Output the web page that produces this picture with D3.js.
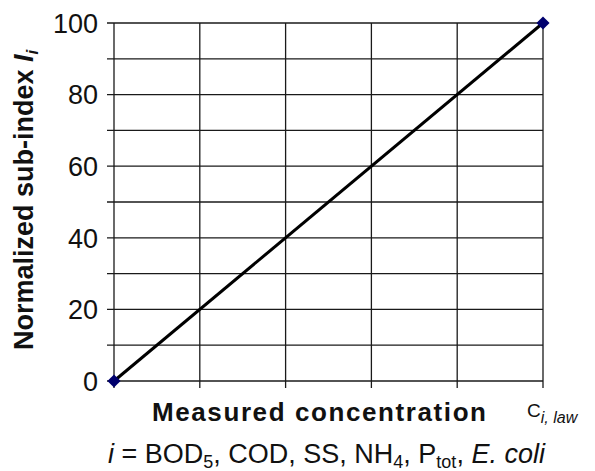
<!DOCTYPE html>
<html><head><meta charset="utf-8">
<script src="https://cdn.jsdelivr.net/npm/d3@7"></script>
<style>html,body{margin:0;padding:0;background:#fff;}svg{display:block;}</style>
</head><body>
<script>
const concentration = [0, 1];          // fraction of C_i,law
const subIndex = [0, 100];             // normalized sub-index I_i
const yTickLabels = [0, 20, 40, 60, 80, 100];
const yGridValues = [0, 10, 20, 30, 40, 50, 60, 70, 80, 90, 100];
const xGridValues = [0, 0.2, 0.4, 0.6, 0.8, 1.0];

const W = 595, H = 471;
const L = 114, R = 543, T = 23, B = 381;
const svg = d3.select("body").append("svg").attr("width", W).attr("height", H);
const x = d3.scaleLinear().domain([0, 1]).range([L, R]);
const y = d3.scaleLinear().domain([0, 100]).range([B, T]);
const font = "'Liberation Sans', Arial, Helvetica, sans-serif";
const gridColor = "#1a1a1a";

// horizontal grid (with outer ticks)
svg.append("g").selectAll("line").data(yGridValues).join("line")
  .attr("x1", L - 7).attr("x2", R)
  .attr("y1", d => y(d)).attr("y2", d => y(d))
  .attr("stroke", gridColor).attr("stroke-width", 1.3);
// vertical grid (with outer ticks)
svg.append("g").selectAll("line").data(xGridValues).join("line")
  .attr("x1", d => x(d)).attr("x2", d => x(d))
  .attr("y1", T).attr("y2", B + 7)
  .attr("stroke", gridColor).attr("stroke-width", 1.3);

// y tick labels
svg.append("g").selectAll("text").data(yTickLabels).join("text")
  .attr("x", L - 16).attr("y", d => y(d)).attr("dy", "0.36em")
  .attr("text-anchor", "end").attr("font-family", font).attr("font-size", 27)
  .attr("fill", "#111").text(d => d);

// data line
const pts = concentration.map((c, i) => [c, subIndex[i]]);
svg.append("path").datum(pts)
  .attr("d", d3.line().x(d => x(d[0])).y(d => y(d[1])))
  .attr("fill", "none").attr("stroke", "#000").attr("stroke-width", 3);
// markers
svg.append("g").selectAll("path").data(pts).join("path")
  .attr("d", d3.symbol().type(d3.symbolDiamond2).size(110))
  .attr("transform", d => `translate(${x(d[0])},${y(d[1])})`)
  .attr("fill", "#00006e");

// x axis label
svg.append("text").attr("x", 152).attr("y", 421)
  .attr("font-family", font).attr("font-size", 26).attr("font-weight", "bold")
  .attr("fill", "#111").attr("textLength", 334).attr("lengthAdjust", "spacing")
  .text("Measured concentration");

// C_i,law
const c = svg.append("text").attr("x", 527).attr("y", 417)
  .attr("font-family", font).attr("font-size", 19).attr("fill", "#111");
c.append("tspan").text("C");
c.append("tspan").attr("dy", 6).attr("font-size", 16).attr("font-style", "italic").text("i, law");

// subtitle
const s = svg.append("text").attr("x", 108).attr("y", 463)
  .attr("font-family", font).attr("font-size", 27).attr("fill", "#111");
const sub = (t) => s.append("tspan").attr("dy", 5).attr("font-size", 18).text(t);
const back = (t) => s.append("tspan").attr("dy", -5).text(t);
s.append("tspan").attr("font-style", "italic").text("i");
s.append("tspan").text(" = BOD");
sub("5"); back(", COD, SS, NH");
sub("4"); back(", P");
sub("tot"); back(", ");
s.append("tspan").attr("font-style", "italic").text("E. coli");

// y axis label
const yl = svg.append("text")
  .attr("transform", `translate(33,350) rotate(-90)`)
  .attr("font-family", font).attr("font-size", 27).attr("font-weight", "bold")
  .attr("fill", "#111");
yl.append("tspan").text("Normalized sub-index ");
yl.append("tspan").attr("font-style", "italic").text("I");
yl.append("tspan").attr("dy", 5).attr("font-size", 17).attr("font-style", "italic").text("i");
</script>
</body></html>
